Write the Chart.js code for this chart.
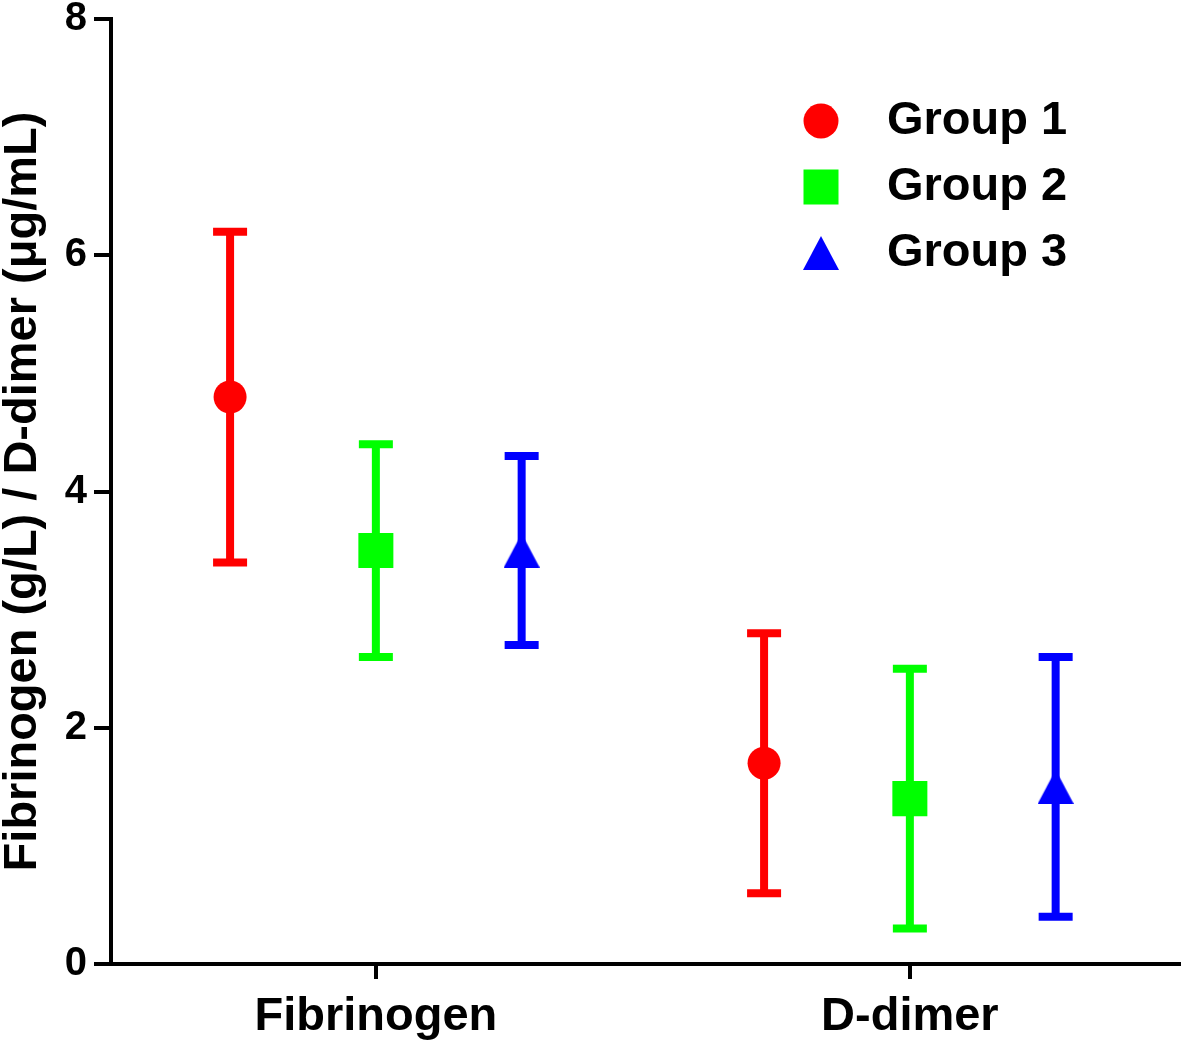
<!DOCTYPE html>
<html>
<head>
<meta charset="utf-8">
<script src="https://cdn.jsdelivr.net/npm/chart.js@4.4.0/dist/chart.umd.min.js"></script>
<style>
  body { margin: 0; background: #fff; }
  #wrap { width: 1182px; height: 1042px; }
</style>
</head>
<body>
<div id="wrap"><canvas id="myChart" width="1182" height="1042"></canvas></div>
<script>
const categories = ["Fibrinogen", "D-dimer"];
const groupNames = ["Group 1", "Group 2", "Group 3"];
const yTicks = [0, 2, 4, 6, 8];

// mean and the two ends of the error bar, one value per category
const group1Mean = [4.8, 1.7];
const group1Upper = [6.2, 2.8];
const group1Lower = [3.4, 0.6];

const group2Mean = [3.5, 1.4];
const group2Upper = [4.4, 2.5];
const group2Lower = [2.6, 0.3];

const group3Mean = [3.5, 1.5];
const group3Upper = [4.3, 2.6];
const group3Lower = [2.7, 0.4];

const FONT = '"Liberation Sans", Arial, sans-serif';
const offsets = [-0.273, 0, 0.273]; // side by side inside a category

// triangle marker centred on its box (like GraphPad does it)
function triangleMarker(color, w, h) {
  const c = document.createElement("canvas");
  c.width = w;
  c.height = h;
  const g = c.getContext("2d");
  g.fillStyle = color;
  g.beginPath();
  g.moveTo(w / 2, 0);
  g.lineTo(w, h);
  g.lineTo(0, h);
  g.closePath();
  g.fill();
  return c;
}

function points(means, k) {
  return means.map((m, i) => ({ x: i + offsets[k], y: m }));
}

const errorBars = {
  id: "errorBars",
  beforeDatasetsDraw(chart) {
    const { ctx, scales: { x, y } } = chart;
    chart.data.datasets.forEach((ds) => {
      ctx.save();
      ctx.strokeStyle = ds.backgroundColor;
      ctx.lineWidth = 8;
      ds.data.forEach((pt, i) => {
        const px = x.getPixelForValue(pt.x);
        const top = y.getPixelForValue(ds.upper[i]);
        const bottom = y.getPixelForValue(ds.lower[i]);
        ctx.beginPath();
        ctx.moveTo(px, top);
        ctx.lineTo(px, bottom);
        ctx.moveTo(px - 17, top);
        ctx.lineTo(px + 17, top);
        ctx.moveTo(px - 17, bottom);
        ctx.lineTo(px + 17, bottom);
        ctx.stroke();
      });
      ctx.restore();
    });
  },
};

// legend drawn inside the plot, top right
const legendBox = {
  id: "legendBox",
  afterDraw(chart) {
    const ctx = chart.ctx;
    ctx.save();
    chart.data.datasets.forEach((ds, i) => {
      const cx = 821;
      const cy = 121 + i * 66;
      ctx.fillStyle = ds.backgroundColor;
      if (ds.pointStyle === "circle") {
        ctx.beginPath();
        ctx.arc(cx, cy, 17.5, 0, Math.PI * 2);
        ctx.fill();
      } else if (ds.pointStyle === "rect") {
        ctx.fillRect(cx - 17.5, cy - 17.5, 35, 35);
      } else {
        ctx.drawImage(ds.pointStyle, cx - 18, cy - 17, 36, 34);
      }
      ctx.fillStyle = "#000";
      ctx.font = "bold 47px " + FONT;
      ctx.textBaseline = "middle";
      ctx.textAlign = "left";
      ctx.fillText(ds.label, 887, cy);
    });
    ctx.restore();
  },
};

const ctx = document.getElementById("myChart").getContext("2d");
const myChart = new Chart(ctx, {
  type: "scatter",
  data: {
    datasets: [
      {
        label: groupNames[0],
        data: points(group1Mean, 0),
        upper: group1Upper,
        lower: group1Lower,
        backgroundColor: "#ff0000",
        pointStyle: "circle",
        pointRadius: 16.5,
        pointBorderWidth: 0,
      },
      {
        label: groupNames[1],
        data: points(group2Mean, 1),
        upper: group2Upper,
        lower: group2Lower,
        backgroundColor: "#00ff00",
        pointStyle: "rect",
        pointRadius: 24.75,
        pointBorderWidth: 0,
      },
      {
        label: groupNames[2],
        data: points(group3Mean, 2),
        upper: group3Upper,
        lower: group3Lower,
        backgroundColor: "#0000ff",
        pointStyle: triangleMarker("#0000ff", 36, 34),
        pointRadius: 17,
        pointBorderWidth: 0,
      },
    ],
  },
  options: {
    responsive: false,
    animation: false,
    events: [],
    layout: { autoPadding: false, padding: { top: 19, right: 3, left: 0, bottom: 0 } },
    plugins: {
      legend: { display: false },
      tooltip: { enabled: false },
    },
    scales: {
      x: {
        type: "linear",
        min: -0.496,
        max: 1.504,
        afterBuildTicks: (scale) => {
          scale.ticks = categories.map((c, i) => ({ value: i }));
        },
        afterFit: (scale) => {
          scale.height = 78;
          scale.paddingLeft = 0;
          scale.paddingRight = 0;
        },
        ticks: {
          callback: (v) => categories[v] || "",
          color: "#000",
          font: { family: FONT, size: 47, weight: "bold", lineHeight: 1 },
          padding: 15,
          maxRotation: 0,
          autoSkip: false,
        },
        grid: { drawOnChartArea: false, color: "#000", lineWidth: 4, tickLength: 15 },
        border: { color: "#000", width: 4 },
      },
      y: {
        min: 0,
        max: 8,
        afterBuildTicks: (scale) => {
          scale.ticks = yTicks.map((v) => ({ value: v }));
        },
        afterFit: (scale) => {
          scale.width = 111;
          scale.paddingTop = 0;
          scale.paddingBottom = 0;
        },
        ticks: {
          color: "#000",
          font: { family: FONT, size: 40, weight: "bold", lineHeight: 0.9 },
          padding: 7,
        },
        grid: { drawOnChartArea: false, color: "#000", lineWidth: 4, tickLength: 17 },
        border: { color: "#000", width: 4 },
        title: {
          display: true,
          text: "Fibrinogen (g/L) / D-dimer (μg/mL)",
          color: "#000",
          font: { family: FONT, size: 47, weight: "bold", lineHeight: 1 },
          padding: 0,
        },
      },
    },
  },
  plugins: [errorBars, legendBox],
});
</script>
</body>
</html>
